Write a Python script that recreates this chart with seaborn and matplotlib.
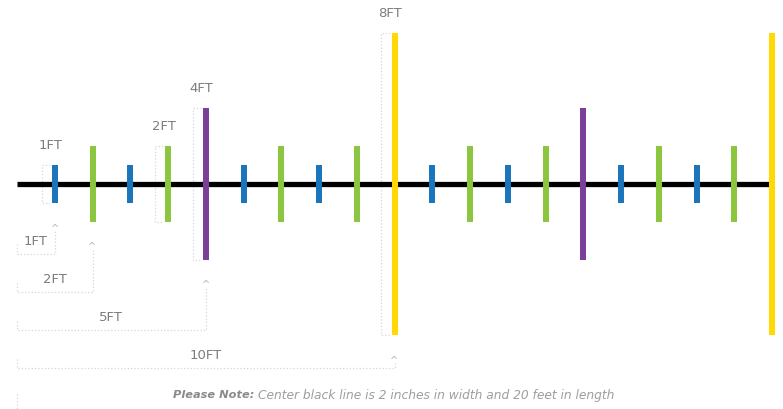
import matplotlib
matplotlib.use('Agg')
import matplotlib.pyplot as plt
import seaborn as sns
import pandas as pd

# marks along the 20ft center line
feet = [1, 2, 3, 4, 5, 6, 7, 8, 9, 10, 11, 12, 13, 14, 15, 16, 17, 18, 19, 20]
tick_len = [1, 2, 1, 2, 4, 1, 2, 1, 2, 8, 1, 2, 1, 2, 4, 1, 2, 1, 2, 8]
len_colors = {1: '#1b75bb', 2: '#8cc63e', 4: '#7c3f98', 8: '#ffd900'}

# height callouts above the marks
height_labels = ['1FT', '2FT', '4FT', '8FT']
height_at = [1, 4, 5, 10]

# distance callouts below the line
dist_labels = ['1FT', '2FT', '5FT', '10FT']
dist_ft = [1, 2, 5, 10]

note_bold = 'Please Note:'
note_rest = 'Center black line is 2 inches in width and 20 feet in length'

df = pd.DataFrame({'feet': feet, 'len': tick_len})
df['color'] = df['len'].map(len_colors)

sns.set_theme(style='white')
plt.rcParams['font.family'] = ['DejaVu Sans']

px = 37.75  # pixels per foot
fig = plt.figure(figsize=(7.83, 4.09), dpi=100)
ax = fig.add_axes([0, 0, 1, 1])

dim_color = '#d6d6d6'
txt_color = '#7c7c7c'

# center line
sns.lineplot(x=[0, 20], y=[0, 0], color='black', linewidth=3.8, ax=ax, zorder=2,
             solid_capstyle='butt')

# marks
ax.vlines(df['feet'], -df['len'] / 2, df['len'] / 2, colors=df['color'], linewidth=4.3, zorder=3)

# height brackets with labels
for lab, f in zip(height_labels, height_at):
    L = df.loc[df['feet'] == f, 'len'].iloc[0]
    bx = f - 0.35
    ax.plot([f - 0.12, bx, bx, f - 0.12], [L / 2, L / 2, -L / 2, -L / 2],
            ls=':', color=dim_color, lw=0.9, zorder=1)
    ax.text(f - 0.12, L / 2 + 0.52, lab, ha='center', va='center',
            fontsize=9.5, color=txt_color)

# distance brackets with labels
for i, (lab, d) in enumerate(zip(dist_labels, dist_ft)):
    level = -1.85 - 1.01 * i
    L = df.loc[df['feet'] == d, 'len'].iloc[0]
    caret = -L / 2 - 0.66
    ax.plot([0, 0, d, d], [level + 0.25, level, level, caret - 0.08],
            ls=':', color=dim_color, lw=0.9, zorder=1)
    ax.text(d, caret - 0.02, '^', ha='center', va='center',
            fontsize=7, color='#b5b5b5')
    ax.text(d / 2, level + 0.33, lab, ha='center', va='center',
            fontsize=9.5, color=txt_color)

# faint start of the next bracket at the bottom edge
ax.plot([0, 0], [-5.55, -6.1], ls=':', color=dim_color, lw=0.9)

# note
ax.text(6.28, -5.59, note_bold, ha='right', va='center', fontsize=8.2,
        color='#8a8a8a', style='italic', fontweight='bold')
ax.text(6.38, -5.59, note_rest, ha='left', va='center', fontsize=8.8,
        color='#9e9e9e', style='italic')

ax.set_xlim(-17 / px, 766 / px)
ax.set_ylim(-225 / px, 184 / px)
ax.axis('off')

fig.savefig('out.png', dpi=100, facecolor='white')
